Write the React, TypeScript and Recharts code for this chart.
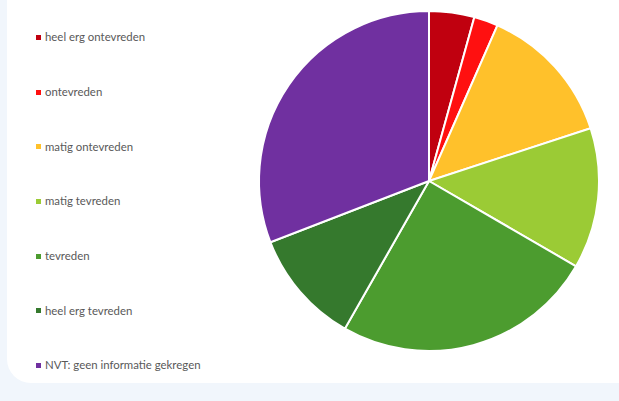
import { PieChart, Pie, Cell, Legend } from 'recharts'

const categories = [
  'heel erg ontevreden',
  'ontevreden',
  'matig ontevreden',
  'matig tevreden',
  'tevreden',
  'heel erg tevreden',
  'NVT: geen informatie gekregen',
]
const values = [4.3, 2.3, 13.4, 13.4, 24.9, 10.9, 30.9]
const colors = ['#C0000F', '#FF1010', '#FFC12B', '#9BCB35', '#4C9C2F', '#35792D', '#7030A0']

const data = categories.map((name, i) => ({ name, value: values[i] }))

// legend kept in data order (recharts sorts payload by name otherwise)
function LegendList() {
  return (
    <div style={{ position: 'absolute', left: 36, top: 10, whiteSpace: 'nowrap' }}>
      {categories.map((name, i) => (
        <div key={name} style={{ display: 'flex', alignItems: 'center', height: 54.7 }}>
          <div style={{ height: 16, display: 'flex', alignItems: 'center' }}>
            <span style={{ width: 5, height: 5, background: colors[i], marginRight: 4, display: 'inline-block' }} />
            <span style={{ fontSize: 11.4, color: '#595959', fontFamily: 'Lato, sans-serif', lineHeight: '16px' }}>
              {name}
            </span>
          </div>
        </div>
      ))}
    </div>
  )
}

export default function App() {
  return (
    <div style={{ position: 'fixed', left: 0, top: 0, width: 619, height: 401, background: '#f1f6fc', overflow: 'hidden' }}>
      <div
        style={{
          position: 'absolute', left: 7, top: -30, width: 640, height: 413,
          background: '#ffffff', borderRadius: 24,
        }}
      />
      <div style={{ position: 'absolute', left: 0, top: 0 }}>
        <PieChart width={619} height={401}>
          <Pie
            data={data}
            dataKey="value"
            nameKey="name"
            cx={424}
            cy={176}
            outerRadius={170}
            startAngle={90}
            endAngle={-270}
            stroke="#ffffff"
            strokeWidth={2}
            isAnimationActive={false}
          >
            {data.map((d, i) => (
              <Cell key={d.name} fill={colors[i]} />
            ))}
          </Pie>
          <Legend
            content={<LegendList />}
            wrapperStyle={{ position: 'absolute', left: 0, top: 0, width: 1, height: 1 }}
          />
        </PieChart>
      </div>
    </div>
  )
}
